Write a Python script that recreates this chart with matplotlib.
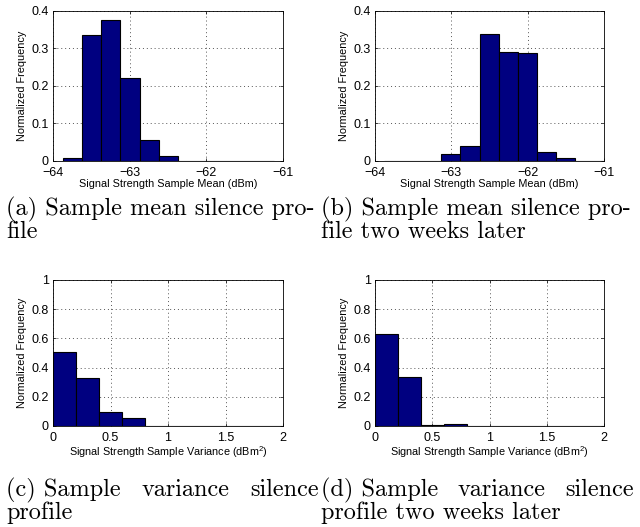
import matplotlib
matplotlib.use("Agg")
import matplotlib.pyplot as plt
import numpy as np

plt.rcParams['font.family'] = ['Liberation Sans', 'DejaVu Sans']
plt.rcParams['font.size'] = 8
plt.rcParams['axes.unicode_minus'] = True
plt.rcParams['mathtext.fontset'] = 'custom'
plt.rcParams['mathtext.rm'] = 'Liberation Sans'

# histogram data: left bin edge, bin width, normalized frequencies
mean_edge_a = -63.87
mean_freq_a = [0.008, 0.336, 0.375, 0.221, 0.056, 0.013, 0, 0, 0, 0, 0]
mean_edge_b = -63.88
mean_freq_b = [0, 0, 0, 0.018, 0.039, 0.339, 0.291, 0.289, 0.025, 0.008, 0, 0]
mean_width = 0.25

var_edge = 0.0
var_freq_c = [0.506, 0.332, 0.096, 0.055, 0.003, 0, 0, 0, 0, 0]
var_freq_d = [0.629, 0.339, 0.005, 0.016, 0.003, 0, 0, 0, 0, 0]
var_width = 0.2

mean_ticks = [-64, -63, -62, -61]
mean_yticks = [0, 0.1, 0.2, 0.3, 0.4]
var_ticks = [0, 0.5, 1, 1.5, 2]
var_yticks = [0, 0.2, 0.4, 0.6, 0.8, 1]

W, H = 640, 527
fig = plt.figure(figsize=(W / 100, H / 100), dpi=100)

def box(l, t, r, b):
    return [l / W, 1 - b / H, (r - l) / W, (b - t) / H]

def hist_panel(rect, edge, width, freq, xlim, xticks, ylim, yticks, xlabel):
    ax = fig.add_axes(rect)
    lefts = edge + width * np.arange(len(freq))
    ax.bar(lefts, freq, width=width, align='edge', color='#000080',
           edgecolor='black', linewidth=0.8, zorder=3)
    ax.set_xlim(xlim)
    ax.set_ylim(ylim)
    ax.set_xticks(xticks)
    ax.set_yticks(yticks)
    ax.set_xticklabels([('%g' % v).replace('-', '\u2212') for v in xticks])
    ax.set_yticklabels(['%g' % v for v in yticks])
    ax.grid(True, linestyle=(0, (1, 3)), color='#555555', linewidth=0.7, zorder=0)
    ax.tick_params(direction='in', length=2.5, width=0.5, pad=3,
                   top=True, right=True, labelsize=9)
    ax.tick_params(axis='x', pad=4.5)
    for s in ax.spines.values():
        s.set_linewidth(0.6)
    ax.set_xlabel(xlabel, labelpad=0, fontsize=7.8)
    ax.set_ylabel('Normalized Frequency', labelpad=3, fontsize=7.8)
    return ax

hist_panel(box(53, 11, 283, 161), mean_edge_a, mean_width, mean_freq_a,
           (-64, -61), mean_ticks, (0, 0.4), mean_yticks,
           'Signal Strength Sample Mean (dBm)')
hist_panel(box(375, 11, 604, 161), mean_edge_b, mean_width, mean_freq_b,
           (-64, -61), mean_ticks, (0, 0.4), mean_yticks,
           'Signal Strength Sample Mean (dBm)')
hist_panel(box(53, 280, 283, 426), var_edge, var_width, var_freq_c,
           (0, 2), var_ticks, (0, 1), var_yticks,
           r'Signal Strength Sample Variance (dBm$^2$)')
hist_panel(box(375, 280, 604, 426), var_edge, var_width, var_freq_d,
           (0, 2), var_ticks, (0, 1), var_yticks,
           r'Signal Strength Sample Variance (dBm$^2$)')

# subfigure captions
cap = dict(family=['cmr10', 'DejaVu Serif'], fontsize=17.5, va='center')

def put(x, y, s, ha='left'):
    return fig.text(x / W, 1 - y / H, s, ha=ha, **cap)

def justify(x0, x1, y, words):
    # spread words across [x0, x1] like a justified line
    renderer = fig.canvas.get_renderer()
    texts = [put(x0, y, w) for w in words]
    widths = [t.get_window_extent(renderer).width for t in texts]
    gap = (x1 - x0 - sum(widths)) / (len(words) - 1)
    x = x0
    for t, w in zip(texts, widths):
        t.set_x(x / W)
        x += w + gap

put(6, 209, '(a) Sample mean silence pro-')
put(6, 232, 'file')
put(321, 209, '(b) Sample mean silence pro-')
put(321, 232, 'file two weeks later')

justify(6, 319, 490, ['(c) Sample', 'variance', 'silence'])
put(6, 513, 'profile')
justify(321, 634, 490, ['(d) Sample', 'variance', 'silence'])
put(321, 513, 'profile two weeks later')

fig.savefig('out.png', dpi=100)
